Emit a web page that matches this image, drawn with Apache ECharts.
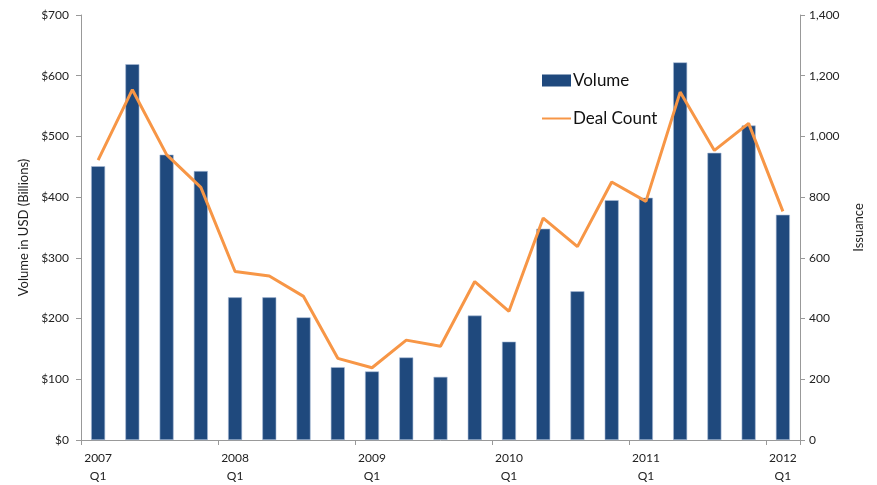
<!DOCTYPE html>
<html>
<head>
<meta charset="utf-8">
<script src="https://cdn.jsdelivr.net/npm/echarts@6/dist/echarts.min.js"></script>
<style>
  html, body { margin: 0; padding: 0; background: #fff; }
  #chart { width: 877px; height: 485px; }
</style>
</head>
<body>
<div id="chart"></div>
<script>
// quarters 2007 Q1 .. 2012 Q1
const categories = [
  '2007\nQ1', '2007 Q2', '2007 Q3', '2007 Q4',
  '2008\nQ1', '2008 Q2', '2008 Q3', '2008 Q4',
  '2009\nQ1', '2009 Q2', '2009 Q3', '2009 Q4',
  '2010\nQ1', '2010 Q2', '2010 Q3', '2010 Q4',
  '2011\nQ1', '2011 Q2', '2011 Q3', '2011 Q4',
  '2012\nQ1'
]
const volume = [451, 619, 470, 443, 235, 235, 202, 120, 113, 136, 104, 205, 162, 348, 245, 395, 399, 622, 473, 518, 371]
const dealCount = [922, 1154, 940, 832, 555, 540, 473, 269, 238, 329, 309, 522, 424, 731, 637, 850, 786, 1146, 954, 1043, 753]

const textColor = '#222'
const axisColor = '#999'
const font = 'Lato'

const chart = echarts.init(document.getElementById('chart'))
chart.setOption({
  animation: false,
  textStyle: { fontFamily: font },
  grid: { left: 81, right: 77, top: 15, bottom: 43 },
  legend: {
    orient: 'vertical',
    left: 541,
    top: 72,
    padding: 0,
    itemGap: 21,
    itemWidth: 29,
    itemHeight: 12,
    textStyle: { fontSize: 17, color: '#111', fontFamily: font, padding: [0, 0, 0, -3] },
    data: [
      { name: 'Volume', icon: 'rect', itemStyle: { borderWidth: 0 } },
      { name: 'Deal Count', itemStyle: { opacity: 0 } }
    ]
  },
  xAxis: {
    type: 'category',
    data: categories,
    axisLine: { lineStyle: { color: axisColor } },
    axisTick: { show: true, length: 5, lineStyle: { color: axisColor } },
    axisLabel: {
      interval: 3,
      margin: 9,
      color: textColor,
      fontSize: 12,
      lineHeight: 18,
      formatter: v => (v.indexOf('\n') >= 0 ? v : '')
    }
  },
  yAxis: [
    {
      type: 'value',
      min: 0,
      max: 700,
      interval: 100,
      name: 'Volume in USD (Billions)',
      nameLocation: 'middle',
      nameGap: 47,
      nameTextStyle: { color: textColor, fontSize: 13 },
      axisLine: { show: true, lineStyle: { color: axisColor } },
      axisTick: { show: true, length: 5, lineStyle: { color: axisColor } },
      axisLabel: { color: textColor, fontSize: 12, margin: 12, formatter: v => '$' + v },
      splitLine: { show: false }
    },
    {
      type: 'value',
      min: 0,
      max: 1400,
      interval: 200,
      name: 'Issuance',
      nameLocation: 'middle',
      nameGap: 52,
      nameTextStyle: { color: textColor, fontSize: 13 },
      axisLine: { show: true, lineStyle: { color: axisColor } },
      axisTick: { show: true, length: 5, lineStyle: { color: axisColor } },
      axisLabel: {
        color: textColor,
        fontSize: 12,
        margin: 9,
        formatter: v => v.toLocaleString('en-US')
      },
      splitLine: { show: false }
    }
  ],
  series: [
    {
      name: 'Volume',
      type: 'bar',
      data: volume,
      barWidth: 14,
      itemStyle: { color: '#1F497D', borderColor: '#A9BCD6', borderWidth: 0.6 }
    },
    {
      name: 'Deal Count',
      type: 'line',
      yAxisIndex: 1,
      data: dealCount,
      symbol: 'none',
      lineStyle: { color: '#F79646', width: 3 },
      itemStyle: { color: '#F79646' }
    }
  ]
})
</script>
</body>
</html>
